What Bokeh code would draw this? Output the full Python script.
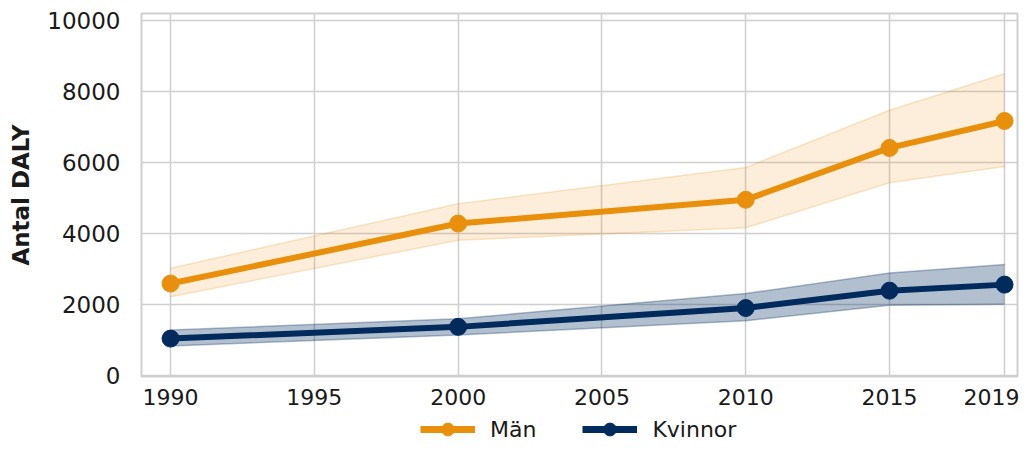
from bokeh.plotting import figure
from bokeh.models import FixedTicker, Legend, LegendItem, Range1d
from bokeh.layouts import column
from bokeh.embed import file_html
from bokeh.resources import INLINE

years = [1990, 2000, 2010, 2015, 2019]
man = [2590, 4280, 4950, 6410, 7170]
man_low = [2220, 3810, 4160, 5430, 5890]
man_high = [3020, 4840, 5860, 7470, 8500]
kvinnor = [1040, 1370, 1900, 2390, 2560]
kv_low = [830, 1140, 1540, 1980, 2010]
kv_high = [1280, 1600, 2310, 2890, 3130]
x_ticks = [1990, 1995, 2000, 2005, 2010, 2015, 2019]
y_ticks = [0, 2000, 4000, 6000, 8000, 10000]
series_names = ["Män", "Kvinnor"]

ORANGE = "#E8900C"
NAVY = "#012B5D"
GRID = "#cfcfcf"
FONT = "DejaVu Sans"

p = figure(width=1019, output_backend="svg", toolbar_location=None,
           x_range=Range1d(1988.99, 2019.45), y_range=Range1d(-28, 10197),
           min_border_left=141, min_border_right=2, min_border_top=13, min_border_bottom=37)
p.frame_height = 363

p.outline_line_color = GRID
p.outline_line_width = 2
p.xgrid.grid_line_color = GRID
p.ygrid.grid_line_color = GRID
p.xgrid.grid_line_width = 1.5
p.ygrid.grid_line_width = 1.5

p.xaxis.ticker = FixedTicker(ticks=x_ticks)
p.yaxis.ticker = FixedTicker(ticks=y_ticks)
for ax in (p.xaxis, p.yaxis):
    ax.axis_line_color = None
    ax.major_tick_line_color = None
    ax.minor_tick_line_color = None
    ax.major_tick_out = 0
    ax.major_tick_in = 0
    ax.major_label_text_color = "#1a1a1a"
    ax.major_label_text_font = FONT

p.xaxis.major_label_text_font_size = "22px"
p.xaxis.major_label_standoff = 12
p.yaxis.major_label_text_font_size = "23px"
p.yaxis.major_label_standoff = 21
p.yaxis.axis_label = "Antal DALY"
p.yaxis.axis_label_text_font = FONT
p.yaxis.axis_label_text_font_style = "bold"
p.yaxis.axis_label_text_font_size = "23px"
p.yaxis.axis_label_text_color = "#1a1a1a"
p.yaxis.axis_label_standoff = 10

# uncertainty bands
p.varea(x=years, y1=man_low, y2=man_high, fill_color=ORANGE, fill_alpha=0.15)
p.line(years, man_low, line_color=ORANGE, line_alpha=0.22, line_width=1.5)
p.line(years, man_high, line_color=ORANGE, line_alpha=0.22, line_width=1.5)
p.varea(x=years, y1=kv_low, y2=kv_high, fill_color=NAVY, fill_alpha=0.3)
p.line(years, kv_low, line_color=NAVY, line_alpha=0.3, line_width=1.5)
p.line(years, kv_high, line_color=NAVY, line_alpha=0.3, line_width=1.5)

p.line(years, man, line_color=ORANGE, line_width=6)
p.scatter(years, man, size=17, color=ORANGE)
p.line(years, kvinnor, line_color=NAVY, line_width=6)
p.scatter(years, kvinnor, size=17, color=NAVY)

# legend strip below the chart (its frame is aligned with the chart's frame)
lf = figure(width=1019, height=32, output_backend="svg", toolbar_location=None,
            x_axis_type=None, y_axis_type=None, min_border=0,
            min_border_left=141, min_border_right=2,
            x_range=Range1d(0, 1), y_range=Range1d(0, 1))
lf.outline_line_color = None
lf.xgrid.visible = False
lf.ygrid.visible = False
items = []
for name, col in zip(series_names, [ORANGE, NAVY]):
    lr = lf.line([-10, -9], [-10, -9], line_color=col, line_width=7)
    sr = lf.scatter([-10], [-10], size=15, color=col)
    items.append(LegendItem(label=name, renderers=[lr, sr]))
legend = Legend(items=items, orientation="horizontal", location=(279, 0),
                label_text_font=FONT,
                label_text_font_size="22px", label_text_color="#1a1a1a",
                glyph_width=55, glyph_height=32, label_standoff=15, spacing=46,
                border_line_color=None, background_fill_alpha=0,
                padding=0, margin=0)
lf.add_layout(legend, "center")

layout = column(p, lf, spacing=0)
open("out.html", "w").write(file_html(layout, INLINE))
